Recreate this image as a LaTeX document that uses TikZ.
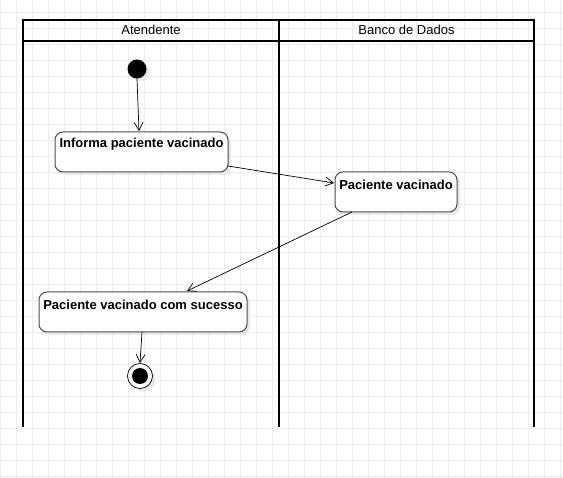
\documentclass[tikz,border=0pt]{standalone}
\usepackage{fontspec}
\setmainfont{Liberation Sans}
\usetikzlibrary{arrows.meta}
\begin{document}
\begin{tikzpicture}[x=1pt,y=-1pt,
  lane/.style={line width=2pt,draw=black},
  act/.style={draw=black!70,line width=1pt,fill=white,rounded corners=8pt},
  shad/.style={fill=black!9,rounded corners=8pt,draw=none},
  lbl/.style={font=\fontsize{13}{15}\selectfont\bfseries,inner sep=0pt},
  hdr/.style={font=\fontsize{13}{15}\selectfont,inner sep=0pt},
  flow/.style={draw=black,line width=0.7pt,-{Straight Barb[length=8pt,width=9pt,line width=0.7pt]}}]
\useasboundingbox (0,0) rectangle (563,478);
\fill[white] (0,0) rectangle (563,478);
% grid
\foreach \x in {0,16,...,560} \draw[black!7,line width=0.7pt] (\x,0) -- (\x,478);
\foreach \y in {12,28,...,476} \draw[black!7,line width=0.7pt] (0,\y) -- (563,\y);
% pool
\draw[lane] (23,427) -- (23,20) -- (534,20) -- (534,427);
\draw[lane] (23,41) -- (534,41);
\draw[lane] (279,20) -- (279,427);
\node[hdr] (h1) at (151,30) {Atendente};
\node[hdr] (h2) at (406.5,30) {Banco de Dados};
% start
\fill[black!9] (140,72) circle (9.5);
\node[circle,fill=black,minimum size=19pt,inner sep=0pt] (start) at (137,69) {};
% activity 1
\fill[shad] (58,135) rectangle (231,175);
\node[act,minimum width=173pt,minimum height=40pt,inner sep=0pt] (a1) at (141.5,152) {};
\node[lbl] (t1) at (141.5,144.5) {Informa paciente vacinado};
% activity 2
\fill[shad] (338,175) rectangle (460,215);
\node[act,minimum width=122pt,minimum height=40pt,inner sep=0pt] (a2) at (396,192) {};
\node[lbl] (t2) at (396,184.5) {Paciente vacinado};
% activity 3
\fill[shad] (42,295) rectangle (250,335);
\node[act,minimum width=208pt,minimum height=40pt,inner sep=0pt] (a3) at (143,312) {};
\node[lbl] (t3) at (143,304.5) {Paciente vacinado com sucesso};
% end
\fill[black!9] (143,379) circle (12.5);
\node[circle,draw=black,line width=0.7pt,fill=white,minimum size=25pt,inner sep=0pt] (end) at (140,376) {};
\fill[black] (end.center) circle (8);
% flows
\coordinate (s1) at (137,78.5);
\coordinate (e1) at (139,131);
\draw[flow] (s1) -- (e1);
\coordinate (s2) at (228,166);
\coordinate (e2) at (334,183);
\draw[flow] (s2) -- (e2);
\coordinate (s3) at (352,212);
\coordinate (e3) at (187,291);
\draw[flow] (s3) -- (e3);
\coordinate (s4) at (142,332);
\coordinate (e4) at (140,363);
\draw[flow] (s4) -- (e4);
\end{tikzpicture}
\end{document}
